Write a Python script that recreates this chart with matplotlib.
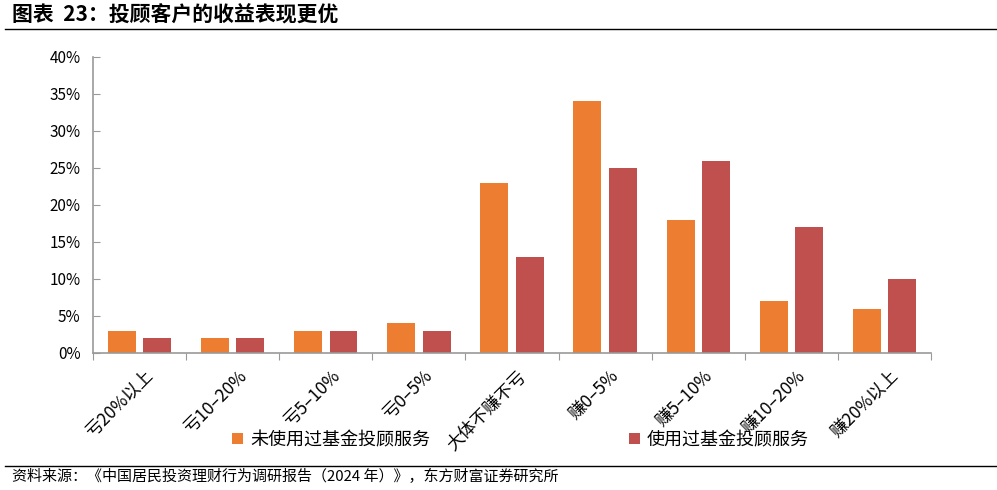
import matplotlib
matplotlib.use("Agg")
import matplotlib.pyplot as plt
import numpy as np

plt.rcParams['font.family'] = ['Noto Sans CJK SC', 'DejaVu Sans']

# categories and values (%)
categories = ['亏20%以上', '亏10–20%', '亏5–10%', '亏0–5%', '大体不赚不亏',
              '赚0–5%', '赚5–10%', '赚10–20%', '赚20%以上']
not_used = [3, 2, 3, 4, 23, 34, 18, 7, 6]
used = [2, 2, 3, 3, 13, 25, 26, 17, 10]
series_names = ['未使用过基金投顾服务', '使用过基金投顾服务']
colors = ['#ED7D31', '#C0504D']

title = '图表  23：投顾客户的收益表现更优'
source = '资料来源：《中国居民投资理财行为调研报告（2024 年）》，东方财富证券研究所'

fig = plt.figure(figsize=(9.97, 4.9), dpi=100)
ax = fig.add_axes([0.0933, 0.2796, 0.8405, 0.6041])

x = np.arange(len(categories))
w = 0.30
b1 = ax.bar(x - 0.19, not_used, w, color=colors[0], label=series_names[0])
b2 = ax.bar(x + 0.19, used, w, color=colors[1], label=series_names[1])

ax.set_xlim(-0.5, len(categories) - 0.5)
ax.set_ylim(0, 40)
ax.set_yticks(np.arange(0, 41, 5))
ax.set_yticklabels(['%d%%' % v for v in range(0, 41, 5)], fontsize=11)
ax.set_xticks(np.arange(-0.5, len(categories), 1))
ax.set_xticklabels([])
ax.set_xticks(x + 0.05, minor=True)
ax.set_xticklabels(categories, minor=True, rotation=45, ha='right',
                   rotation_mode='anchor', fontsize=12.5)
ax.tick_params(axis='x', which='minor', length=0, pad=10)
ax.tick_params(axis='x', which='major', direction='out', length=5, color='#999999')
ax.tick_params(axis='y', direction='in', length=5, color='#999999', pad=9)

for s in ['top', 'right']:
    ax.spines[s].set_visible(False)
for s in ['left', 'bottom']:
    ax.spines[s].set_color('#999999')
    ax.spines[s].set_linewidth(1.2)

fig.legend(handles=[b1, b2], loc='center', bbox_to_anchor=(0.522, 0.102),
           ncol=2, frameon=False, fontsize=13, handlelength=0.6,
           handleheight=0.6, handletextpad=0.4, columnspacing=11.0)

fig.text(0.012, 0.969, title, fontsize=15, fontweight='bold', va='center')
fig.add_artist(plt.Line2D([0.005, 1.0], [0.941, 0.941], color='black', lw=1))
fig.add_artist(plt.Line2D([0.005, 1.0], [0.049, 0.049], color='black', lw=1))
fig.text(0.012, 0.028, source, fontsize=10.8, va='center')

fig.savefig('out.png', dpi=100)
